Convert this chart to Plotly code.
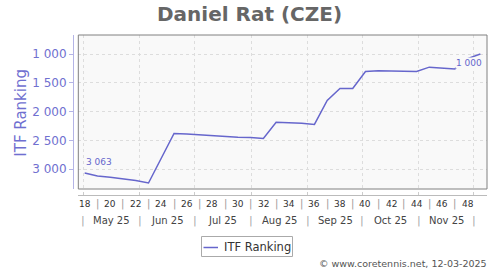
import plotly.graph_objects as go
import numpy as np

# ---- data ----
weeks = list(range(18, 50))
ranking = [3063, 3115, 3140, 3162, 3195, 3238, 2805, 2378, 2388, 2402,
           2422, 2435, 2442, 2448, 2465, 2185, 2190, 2200, 2222, 1805,
           1598, 1598, 1305, 1292, 1296, 1300, 1302, 1228, 1242, 1258,
           1080, 1000]
week_ticks = list(range(18, 49, 2))
week_seps = list(range(19, 48, 2))
month_labels = ["May 25", "Jun 25", "Jul 25", "Aug 25", "Sep 25", "Oct 25", "Nov 25"]
month_days = [31, 30, 31, 31, 30, 31, 30]
y_ticks = [1000, 1500, 2000, 2500, 3000]
y_ticktext = ["1 000", "1 500", "2 000", "2 500", "3 000"]
title = "Daniel Rat (CZE)"
series_name = "ITF Ranking"
footer = "© www.coretennis.net, 12-03-2025"

# ---- layout geometry ----
W, H = 500, 270
ML, MR, MT, MB = 73, 13, 35, 75
PW, PH = W - ML - MR, H - MT - MB
def px(x):  # pixel x -> paper
    return (x - ML) / PW
def py(y):  # pixel y -> paper
    return (H - MB - y) / PH

bounds = list(17.9 + np.concatenate([[0], np.cumsum(month_days)]) / 7.0)
mids = [(bounds[i] + bounds[i + 1]) / 2 for i in range(len(month_labels))]

LINE = "#6666CC"
fig = go.Figure()
fig.add_trace(go.Scatter(x=weeks, y=ranking, mode="lines",
                         line=dict(color=LINE, width=1.5),
                         name=series_name, showlegend=False,
                         hoverinfo="skip"))

ann = []
# data labels
ann.append(dict(x=weeks[0], y=ranking[0], xref="x", yref="y",
                text=f"{ranking[0]:,}".replace(",", " "), showarrow=False,
                xanchor="left", yanchor="bottom", yshift=4, xshift=-1,
                font=dict(family="DejaVu Sans", size=9, color=LINE)))
ann.append(dict(x=weeks[-1], y=ranking[-1], xref="x", yref="y",
                text=f"{ranking[-1]:,}".replace(",", " "), showarrow=False,
                xanchor="right", yanchor="top", yshift=-3, xshift=3,
                bgcolor="#f9f9f9", borderpad=0,
                font=dict(family="DejaVu Sans", size=9, color=LINE)))
# week labels
for w in week_ticks:
    ann.append(dict(x=w, y=py(204), xref="x", yref="paper", text=str(w),
                    showarrow=False, xanchor="center", yanchor="middle",
                    font=dict(family="DejaVu Sans", size=9, color="#333333")))
for w in week_seps:
    ann.append(dict(x=w, y=py(204), xref="x", yref="paper", text="|",
                    showarrow=False, xanchor="center", yanchor="middle",
                    font=dict(family="DejaVu Sans", size=10, color="#999999")))
# month labels
for m, lab in zip(mids, month_labels):
    ann.append(dict(x=m, y=py(220), xref="x", yref="paper", text=lab,
                    showarrow=False, xanchor="center", yanchor="middle",
                    font=dict(family="DejaVu Sans", size=10, color="#444444")))
for b in bounds:
    ann.append(dict(x=b, y=py(220), xref="x", yref="paper", text="|",
                    showarrow=False, xanchor="center", yanchor="middle",
                    font=dict(family="DejaVu Sans", size=11, color="#aaaaaa")))
# y title
ann.append(dict(x=px(20.7), y=py(113), xref="paper", yref="paper",
                text=series_name, textangle=-90, showarrow=False,
                xanchor="center", yanchor="middle",
                font=dict(family="DejaVu Sans", size=15, color="#6f6fd0")))
# legend text
ann.append(dict(x=px(222), y=py(247), xref="paper", yref="paper",
                text=series_name, showarrow=False, xanchor="left", yanchor="middle",
                font=dict(family="DejaVu Sans", size=11.5, color="#333333")))
# footer
ann.append(dict(x=px(489), y=py(263), xref="paper", yref="paper",
                text=footer, showarrow=False, xanchor="right", yanchor="middle",
                font=dict(family="DejaVu Sans", size=9.5, color="#555555")))

shapes = [
    dict(type="rect", xref="x domain", yref="y domain", x0=0, x1=1, y0=0, y1=1,
         line=dict(color="#808080", width=1), layer="above"),
    dict(type="rect", xref="paper", yref="paper", x0=px(201.5), x1=px(292.5),
         y0=py(256.5), y1=py(236.5), line=dict(color="#aaaaaa", width=1),
         fillcolor="white"),
    dict(type="line", xref="paper", yref="paper", x0=px(203.5), x1=px(218),
         y0=py(247.5), y1=py(247.5), line=dict(color=LINE, width=1.5)),
]

fig.update_layout(
    width=W, height=H,
    margin=dict(l=ML, r=MR, t=MT, b=MB, pad=0),
    paper_bgcolor="white", plot_bgcolor="#f9f9f9",
    title=dict(text=f"<b>{title}</b>", x=0.499, xanchor="center",
               y=1 - 14 / H, yanchor="middle", yref="container",
               font=dict(family="DejaVu Sans", size=20, color="#666666")),
    xaxis=dict(domain=[5.3 / PW, 1], range=[17.5, 49.52], anchor="free", position=0,
               showline=True, linecolor="#bbbbbb", linewidth=1,
               tickmode="array", tickvals=bounds, ticks="inside", ticklen=3,
               tickcolor="#cccccc", showticklabels=False,
               showgrid=True, gridcolor="#dddddd", griddash="3px,3px", gridwidth=1,
               zeroline=False, fixedrange=True),
    yaxis=dict(domain=[6 / PH, 1], range=[3342, 670], anchor="free", position=0,
               showline=True, linecolor="#b4b4e6", linewidth=1,
               tickmode="array", tickvals=y_ticks, ticktext=y_ticktext,
               ticks="outside", ticklen=4, tickcolor="#b4b4e6",
               tickfont=dict(family="DejaVu Sans", size=12, color="#7070d0"),
               showgrid=True, gridcolor="#dddddd", griddash="3px,3px", gridwidth=1,
               zeroline=False, fixedrange=True),
    annotations=ann, shapes=shapes, showlegend=False,
)
fig.write_html("out.html")
